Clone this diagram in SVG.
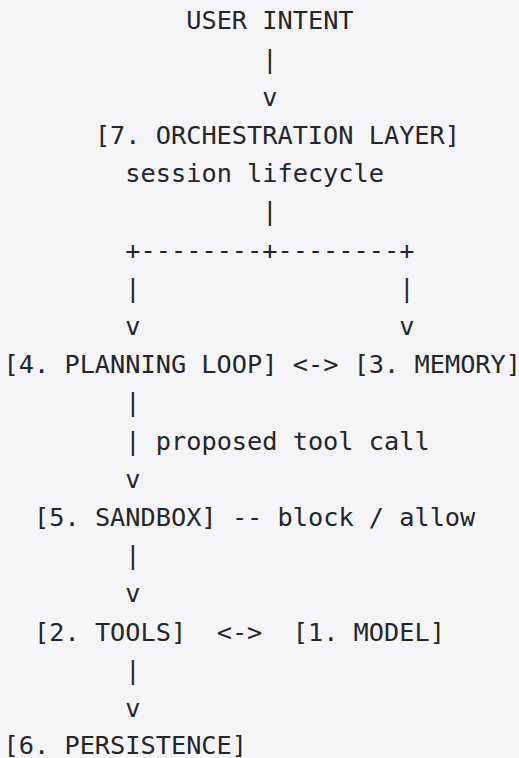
<svg xmlns="http://www.w3.org/2000/svg" width="519" height="758" viewBox="0 0 519 758">
  <style>
    text { font-family: "DejaVu Sans Mono", monospace; font-size: 25.28px; fill: #24262b; }
  </style>
  <!-- code-block background -->
  <rect x="0" y="0" width="519" height="758" fill="#f5f5f7"/>

  <!-- grid: column x = 3.6 + col * 15.22, baseline y = 29.3 + row * 38.2 -->
  <g id="user-intent">
    <text x="186.24" y="29.3">USER INTENT</text>
  </g>

  <g id="orchestration-layer">
    <text x="94.92" y="143.9">[7. ORCHESTRATION LAYER]</text>
    <text x="125.36" y="182.1">session lifecycle</text>
  </g>

  <g id="planning-loop">
    <text x="3.6" y="373.1">[4. PLANNING LOOP]</text>
  </g>

  <g id="memory">
    <text x="353.66" y="373.1">[3. MEMORY]</text>
  </g>

  <g id="sandbox">
    <text x="34.04" y="526.1">[5. SANDBOX]</text>
  </g>

  <g id="tools">
    <text x="34.04" y="640.5">[2. TOOLS]</text>
  </g>

  <g id="model">
    <text x="292.78" y="640.5">[1. MODEL]</text>
  </g>

  <g id="persistence">
    <text x="3.6" y="754.4">[6. PERSISTENCE]</text>
  </g>

  <g id="connectors">
    <!-- intent to orchestration -->
    <text x="262.34" y="67.5">|</text>
    <text x="262.34" y="105.7">v</text>
    <!-- orchestration fan-out -->
    <text x="262.34" y="220.3">|</text>
    <text x="125.36" y="258.5">+--------+--------+</text>
    <text x="125.36" y="296.7">|</text>
    <text x="399.32" y="296.7">|</text>
    <text x="125.36" y="334.9">v</text>
    <text x="399.32" y="334.9">v</text>
    <!-- planning loop with memory -->
    <text x="292.78" y="373.1">&lt;-&gt;</text>
    <!-- planning to sandbox -->
    <text x="125.36" y="411.3">|</text>
    <text x="125.36" y="449.5">|</text>
    <text x="155.8" y="449.5">proposed tool call</text>
    <text x="125.36" y="487.7">v</text>
    <!-- sandbox decision -->
    <text x="231.9" y="526.1">--</text>
    <text x="277.56" y="526.1">block / allow</text>
    <!-- sandbox to tools -->
    <text x="125.36" y="564.1">|</text>
    <text x="125.36" y="602.3">v</text>
    <!-- tools with model -->
    <text x="216.68" y="640.5">&lt;-&gt;</text>
    <!-- tools to persistence -->
    <text x="125.36" y="678.7">|</text>
    <text x="125.36" y="716.9">v</text>
  </g>
</svg>
